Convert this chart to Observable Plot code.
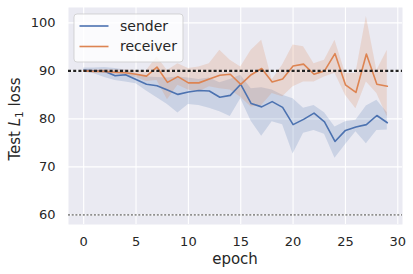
<!DOCTYPE html>
<html>
<head>
<meta charset="utf-8">
<script src="https://cdn.jsdelivr.net/npm/d3@7"></script>
<script src="https://cdn.jsdelivr.net/npm/@observablehq/plot@0.6"></script>
<style>
  html, body { margin: 0; padding: 0; background: white; }
  svg { display: block; }
</style>
</head>
<body>
<div id="chart"></div>
<script>
const epochs = [0,1,2,3,4,5,6,7,8,9,10,11,12,13,14,15,16,17,18,19,20,21,22,23,24,25,26,27,28,29];

const senderMean  = [90.1,90.0,89.9,89.0,89.2,88.2,87.2,86.9,86.0,85.1,85.6,85.9,85.8,84.5,84.9,87.2,83.2,82.5,83.6,82.4,78.8,79.9,81.2,79.4,75.3,77.6,78.3,78.8,80.7,79.2];
const senderLow   = [89.7,89.4,88.6,88.0,87.7,87.3,85.8,84.4,83.0,81.2,83.0,82.8,82.2,81.5,80.5,84.2,79.5,76.4,79.4,78.8,72.7,77.0,77.6,76.8,71.8,74.6,77.3,74.8,77.6,77.7];
const senderHigh  = [90.6,90.6,90.7,90.5,90.2,89.4,88.7,88.6,88.5,88.7,88.5,88.2,88.5,87.5,88.2,89.1,86.3,86.5,86.0,84.9,84.2,82.2,82.8,81.3,78.3,79.4,79.7,82.7,83.9,81.3];

const receiverMean = [90.0,89.9,89.9,89.7,89.6,89.3,88.9,90.8,87.6,88.8,87.5,87.5,88.3,89.1,89.3,87.2,89.2,90.5,87.7,88.3,91.0,91.4,89.3,90.0,93.6,87.1,85.5,93.5,87.2,86.8];
const receiverLow  = [89.7,89.6,89.5,89.2,89.0,88.6,87.8,88.0,84.0,87.0,86.0,85.6,86.7,86.3,86.0,84.5,82.5,82.8,85.3,84.6,86.7,87.7,87.7,88.7,89.5,84.9,82.1,87.7,85.3,80.4];
const receiverHigh = [90.3,90.2,90.3,90.2,90.2,90.1,90.0,92.9,90.1,91.5,90.5,90.8,91.5,94.3,92.2,90.8,94.3,96.4,88.1,91.2,95.4,95.0,91.5,92.2,96.4,89.5,89.5,101.3,90.1,94.3];

const seriesNames = ["sender", "receiver"];
const seriesColors = ["#4C72B0", "#DD8452"];
const xTicks = [0, 5, 10, 15, 20, 25, 30];
const yTicks = [60, 70, 80, 90, 100];
const refLines = [90, 60];
const refColors = ["#222222", "#8f8f8f"];

const rows = [];
epochs.forEach((e, i) => {
  rows.push({series: "sender", epoch: e, mean: senderMean[i], lo: senderLow[i], hi: senderHigh[i]});
});
epochs.forEach((e, i) => {
  rows.push({series: "receiver", epoch: e, mean: receiverMean[i], lo: receiverLow[i], hi: receiverHigh[i]});
});

const font = "DejaVu Sans";
const textColor = "#262626";

const chart = Plot.plot({
  width: 413,
  height: 274,
  marginLeft: 68,
  marginRight: 11,
  marginTop: 7,
  marginBottom: 50,
  style: {fontFamily: font, fontSize: "13px", color: textColor, background: "white", overflow: "visible"},
  x: {domain: [-1.45, 30.45]},
  y: {domain: [58.0, 103.2]},
  color: {domain: seriesNames, range: seriesColors},
  marks: [
    Plot.frame({fill: "#EAEAF2", stroke: null}),
    Plot.gridX(xTicks, {stroke: "white", strokeOpacity: 1, strokeWidth: 1.1}),
    Plot.gridY(yTicks, {stroke: "white", strokeOpacity: 1, strokeWidth: 1.1}),
    Plot.areaY(rows, {x: "epoch", y1: "lo", y2: "hi", z: "series", fill: "series", fillOpacity: 0.2, curve: "linear"}),
    Plot.lineY(rows, {x: "epoch", y: "mean", z: "series", stroke: "series", strokeWidth: 1.6, curve: "linear"}),
    Plot.ruleY([refLines[0]], {stroke: refColors[0], strokeWidth: 2.4, strokeDasharray: "3,2.2"}),
    Plot.ruleY([refLines[1]], {stroke: refColors[1], strokeWidth: 1.6, strokeDasharray: "2,1.7"}),
    Plot.axisX(xTicks, {tickSize: 0, tickPadding: 12, fontSize: 13, label: null}),
    Plot.axisY(yTicks, {tickSize: 0, tickPadding: 13, fontSize: 13, label: null})
  ]
});

document.getElementById("chart").appendChild(chart);

const svg = d3.select(chart);

// axis labels
svg.append("text")
  .attr("x", 235).attr("y", 264)
  .attr("text-anchor", "middle")
  .attr("font-family", font).attr("font-size", 15).attr("fill", textColor)
  .text("epoch");

const yl = svg.append("text")
  .attr("transform", "translate(19.5,119) rotate(-90)")
  .attr("text-anchor", "middle")
  .attr("font-family", font).attr("font-size", 15).attr("fill", textColor);
yl.append("tspan").text("Test ");
yl.append("tspan").attr("font-style", "italic").text("L");
yl.append("tspan").attr("font-size", 10.5).attr("dy", 3).text("1");
yl.append("tspan").attr("dy", -3).text(" loss");

// legend
const lg = svg.append("g");
lg.append("rect")
  .attr("x", 74).attr("y", 14).attr("width", 109).attr("height", 48)
  .attr("rx", 3).attr("fill", "white").attr("fill-opacity", 0.8)
  .attr("stroke", "#cccccc").attr("stroke-opacity", 0.8).attr("stroke-width", 1);
seriesNames.forEach((name, i) => {
  const cy = 26 + i * 20.5;
  lg.append("line")
    .attr("x1", 79.5).attr("x2", 108.5).attr("y1", cy).attr("y2", cy)
    .attr("stroke", seriesColors[i]).attr("stroke-width", 1.6);
  lg.append("text")
    .attr("x", 120).attr("y", cy).attr("dy", "0.35em")
    .attr("text-anchor", "start")
    .attr("font-family", font).attr("font-size", 14).attr("fill", textColor)
    .text(name);
});
</script>
</body>
</html>
